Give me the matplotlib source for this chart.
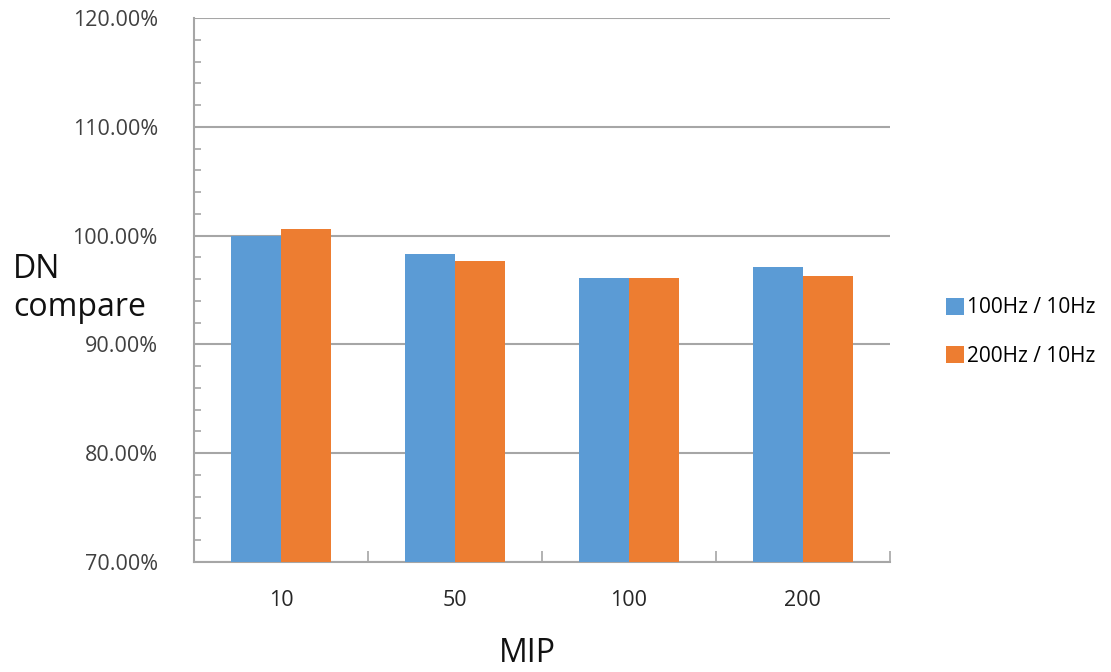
import matplotlib
matplotlib.use("Agg")
import matplotlib.pyplot as plt
import numpy as np
from matplotlib.ticker import FixedLocator, FuncFormatter, MultipleLocator

categories = ["10", "50", "100", "200"]
series_names = ["100Hz / 10Hz", "200Hz / 10Hz"]
s100 = [1.000, 0.983, 0.961, 0.971]
s200 = [1.006, 0.977, 0.961, 0.963]
colors = ["#5B9BD5", "#ED7D31"]

plt.rcParams['font.family'] = ['Open Sans', 'DejaVu Sans']

fig = plt.figure(figsize=(11.11, 6.72), dpi=100)
ax = fig.add_axes([0.1746, 0.1637, 0.8010 - 0.1746, 0.9732 - 0.1637])

x = np.arange(len(categories))
w = 0.287
ax.bar(x - w / 2, s100, width=w, color=colors[0], label=series_names[0], zorder=3)
ax.bar(x + w / 2, s200, width=w, color=colors[1], label=series_names[1], zorder=3)

ax.set_xlim(-0.5, len(categories) - 0.5)
ax.set_ylim(0.7, 1.2)

grid_c = "#a6a6a6"
ax.yaxis.set_major_locator(FixedLocator([0.7, 0.8, 0.9, 1.0, 1.1, 1.2]))
ax.yaxis.set_minor_locator(MultipleLocator(0.02))
ax.yaxis.set_major_formatter(FuncFormatter(lambda v, p: f"{v*100:.2f}%"))
ax.grid(axis='y', which='major', color=grid_c, linewidth=1.5, zorder=0)
ax.tick_params(axis='y', which='major', length=0, pad=26, labelsize=15.5, labelcolor="#404040")
ax.tick_params(axis='y', which='minor', direction='in', length=5, width=1.2, color=grid_c)

ax.set_xticks(x)
ax.set_xticklabels(categories)
ax.set_xticks(np.arange(-0.5, len(categories)), minor=True)
ax.tick_params(axis='x', which='major', length=0, pad=20, labelsize=15.5, labelcolor="#262626")
ax.tick_params(axis='x', which='minor', direction='in', length=8, width=1.2, color=grid_c)

for s in ['top', 'right']:
    ax.spines[s].set_visible(False)
for s in ['left', 'bottom']:
    ax.spines[s].set_color(grid_c)
    ax.spines[s].set_linewidth(1.5)

fig.text(0.012, 0.57, "DN\ncompare", fontsize=23, color="#111111", ha='left', va='center', linespacing=1.2)
fig.text(0.475, 0.028, "MIP", fontsize=23, color="#111111", ha='center', va='center')

leg = fig.legend(loc='center left', bbox_to_anchor=(0.835, 0.506), frameon=False,
                 fontsize=15, handlelength=0.85, handleheight=0.85, handletextpad=0.15,
                 labelspacing=1.3)

fig.savefig("out.png", dpi=100)
